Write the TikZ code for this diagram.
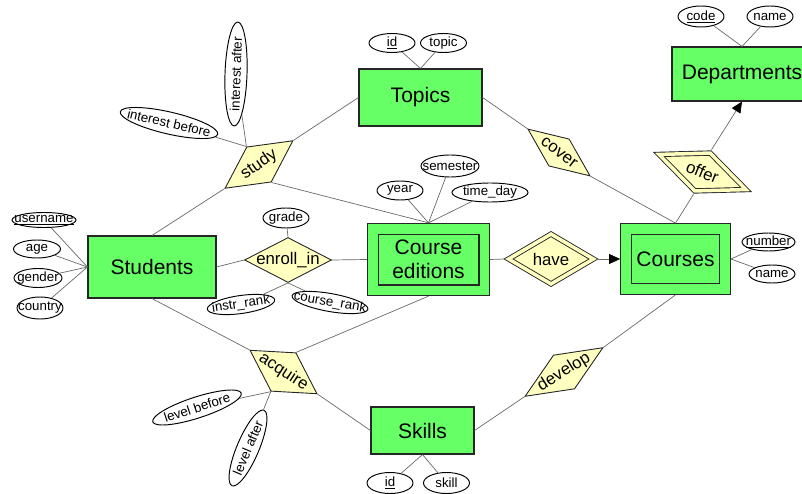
\documentclass[tikz,border=0pt]{standalone}
\usepackage{fontspec}
\setmainfont{Liberation Sans}
\usetikzlibrary{shapes.geometric,arrows.meta}
\definecolor{entgreen}{RGB}{102,255,102}
\definecolor{relyellow}{RGB}{255,255,192}
\definecolor{linegray}{RGB}{105,105,105}
\newcommand{\zbox}[1]{\makebox[0pt]{#1}}

\begin{document}
\begin{tikzpicture}[x=1pt, y=-1pt]
	\tikzset{entity/.style={draw=black!85, line width=1.1pt, fill=entgreen, inner sep=0pt, align=center, font=\fontsize{21}{24}\selectfont},
		weak/.style={entity, double=entgreen, double distance=9.5pt, outer sep=5.9pt},
		relation/.style={diamond, draw=black!85, line width=0.9pt, fill=relyellow, inner sep=0pt, font=\fontsize{16.8}{18}\selectfont},
		weakrel/.style={relation, double=relyellow, double distance=3.5pt, outer sep=2.6pt},
		attr/.style={ellipse, draw=black, line width=0.95pt, fill=white, inner sep=0pt, minimum width=46pt, minimum height=19pt, font=\fontsize{13.3}{15}\selectfont},
		link/.style={draw=linegray, line width=0.7pt}}
	\useasboundingbox (0,0) rectangle (802,494);
	
	\node[entity, minimum width=128pt, minimum height=62pt] (e_students) at (152,267) {Students};
	\node[entity, minimum width=123pt, minimum height=57pt] (e_topics) at (420.5,97.5) {Topics};
	\node[entity, minimum width=140pt, minimum height=54pt] (e_departments) at (742,74) {Departments};
	\node[weak, minimum width=111.5pt, minimum height=61.5pt] (e_editions) at (428.5,259.5) {Course\\editions};
	\node[weak, minimum width=99pt, minimum height=60pt] (e_courses) at (675.5,259) {Courses};
	\node[entity, minimum width=103pt, minimum height=47pt] (e_skills) at (422.5,430.5) {Skills};
	
	\node[relation, rotate=35, minimum width=83pt, minimum height=43pt] (r_study) at (259,164.5) {\zbox{study}};
	\node[relation, rotate=-37, minimum width=78pt, minimum height=34pt] (r_cover) at (559,152.5) {\zbox{cover}};
	\node[weakrel, rotate=-22, minimum width=96pt, minimum height=43pt] (r_offer) at (702.5,172) {\zbox{offer}};
	\node[relation, minimum width=87pt, minimum height=45pt] (r_enroll) at (288,260) {\zbox{enroll\_in}};
	\node[weakrel, minimum width=87pt, minimum height=52pt] (r_have) at (551,259) {\zbox{have}};
	\node[relation, rotate=-33, minimum width=80pt, minimum height=46pt] (r_acquire) at (283.5,372) {\zbox{acquire}};
	\node[relation, rotate=32, minimum width=92pt, minimum height=40pt] (r_develop) at (564,372) {\zbox{develop}};
	
	\node[attr, minimum width=64pt, minimum height=15pt] (a_username) at (44,220) {\zbox{\underline{username}}};
	\node[attr, minimum width=47pt, minimum height=18pt] (a_age) at (37,249) {\zbox{age}};
	\node[attr, minimum width=48pt] (a_gender) at (38,278) {\zbox{gender}};
	\node[attr, minimum width=46pt, minimum height=22pt] (a_country) at (40,308) {\zbox{country}};
	\node[attr, rotate=-13, minimum width=100pt, minimum height=22pt] (a_intbefore) at (169,123) {\zbox{interest before}};
	\node[attr, rotate=88, minimum width=104pt, minimum height=22pt] (a_intafter) at (236,74) {\zbox{interest after}};
	\node[attr] (a_topicid) at (392,43) {\zbox{\underline{id}}};
	\node[attr] (a_topic) at (443.5,43) {\zbox{topic}};
	\node[attr, minimum height=21pt] (a_code) at (701,16.5) {\zbox{\underline{code}}};
	\node[attr, minimum height=21pt] (a_deptname) at (770,16.5) {\zbox{name}};
	\node[attr] (a_year) at (400,190.5) {\zbox{year}};
	\node[attr, minimum width=58pt, minimum height=22pt] (a_semester) at (450,166) {\zbox{semester}};
	\node[attr, minimum width=76pt] (a_timeday) at (490,192.5) {\zbox{time\_day}};
	\node[attr, minimum height=20pt] (a_grade) at (286,218) {\zbox{grade}};
	\node[attr, rotate=8, minimum width=68pt, minimum height=18pt] (a_instr) at (241,304.5) {\zbox{instr\_rank}};
	\node[attr, rotate=-10, minimum width=77pt, minimum height=18pt] (a_crank) at (330,302.5) {\zbox{course\_rank}};
	\node[attr, minimum width=53pt, minimum height=18pt] (a_number) at (768.5,242) {\zbox{\underline{number}}};
	\node[attr, minimum height=18pt] (a_cname) at (772,274) {\zbox{name}};
	\node[attr, rotate=18, minimum width=93pt, minimum height=21pt] (a_lvlbefore) at (197,407.5) {\zbox{level before}};
	\node[attr, rotate=67, minimum width=82pt, minimum height=22pt] (a_lvlafter) at (248,448) {\zbox{level after}};
	\node[attr, minimum height=21pt] (a_skillid) at (390,483) {\zbox{\underline{id}}};
	\node[attr, minimum height=21pt] (a_skill) at (446.5,483) {\zbox{skill}};
	
	\draw[link] (a_username) -- (e_students.west);
	\draw[link] (a_age) -- (e_students.west);
	\draw[link] (a_gender) -- (e_students.west);
	\draw[link] (a_country) -- (e_students.west);
	\draw[link] (e_students.north) -- (r_study.west);
	\draw[link] (r_study.east) -- (e_topics.west);
	\draw[link] (r_study.south) -- (e_editions.north);
	\draw[link] (a_intbefore) -- (r_study.north);
	\draw[link] (a_intafter) -- (r_study.north);
	\draw[link] (a_topicid) -- (e_topics.north);
	\draw[link] (a_topic) -- (e_topics.north);
	\draw[link] (e_topics.east) -- (r_cover.west);
	\draw[link] (r_cover.east) -- (e_courses.north);
	\draw[link] (a_code) -- (e_departments.north);
	\draw[link] (a_deptname) -- (e_departments.north);
	\draw[link] (e_courses.north) -- (r_offer.south);
	\draw[link, -{Triangle[length=11pt, width=10pt, color=black]}] (r_offer.north) -- (e_departments.south);
	\draw[link] (e_students.east) -- (r_enroll.west);
	\draw[link] (r_enroll.east) -- (e_editions.west);
	\draw[link] (a_grade) -- (r_enroll.north);
	\draw[link] (r_enroll.south) -- (a_instr);
	\draw[link] (r_enroll.south) -- (a_crank);
	\draw[link] (a_year) -- (e_editions.north);
	\draw[link] (a_semester) -- (e_editions.north);
	\draw[link] (a_timeday) -- (e_editions.north);
	\draw[link] (e_editions.east) -- (r_have.west);
	\draw[link, -{Triangle[length=11pt, width=10pt, color=black]}] (r_have.east) -- (e_courses.west);
	\draw[link] (a_number) -- (e_courses.east);
	\draw[link] (a_cname) -- (e_courses.east);
	\draw[link] (e_students.south) -- (r_acquire.west);
	\draw[link] (r_acquire.north) -- (e_editions.south);
	\draw[link] (r_acquire.east) -- (e_skills.west);
	\draw[link] (r_acquire.south) -- (a_lvlbefore);
	\draw[link] (r_acquire.south) -- (a_lvlafter);
	\draw[link] (e_skills.east) -- (r_develop.west);
	\draw[link] (r_develop.east) -- (e_courses.south);
	\draw[link] (a_skillid) -- (e_skills.south);
	\draw[link] (a_skill) -- (e_skills.south);
	
\end{tikzpicture}
\end{document}
